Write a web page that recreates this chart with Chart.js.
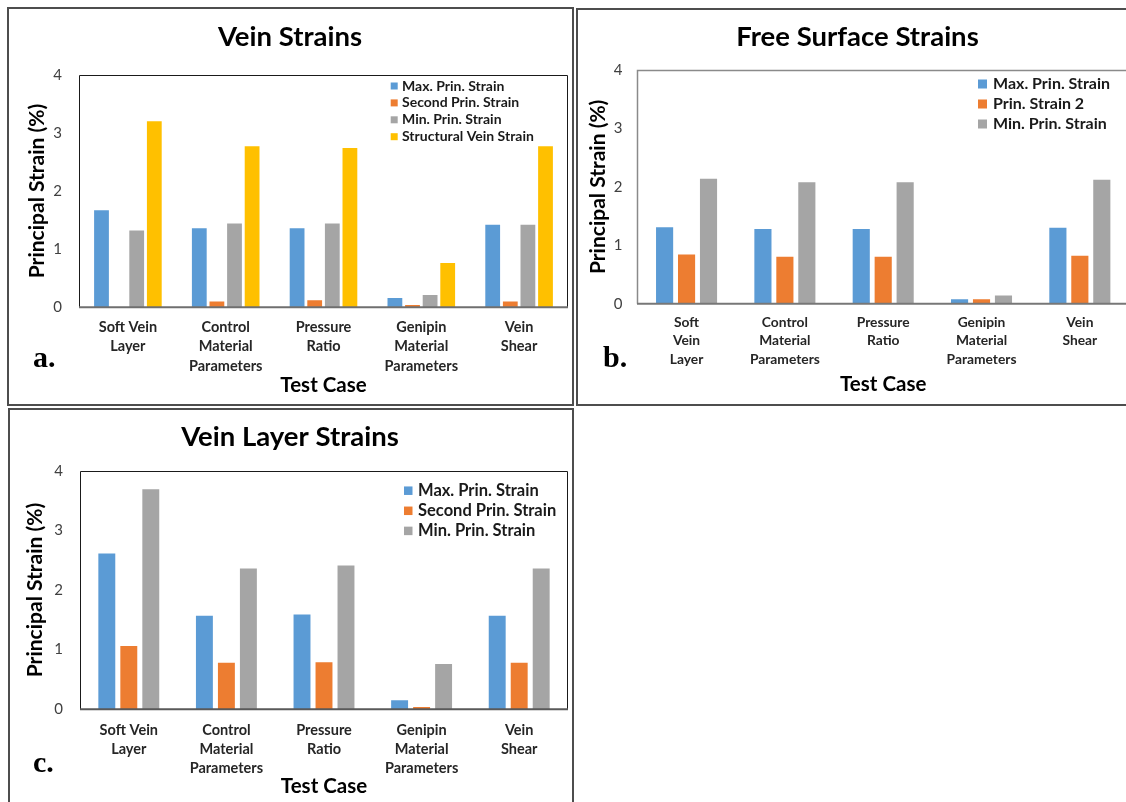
<!DOCTYPE html>
<html>
<head>
<meta charset="utf-8">
<script src="https://cdn.jsdelivr.net/npm/chart.js@4.4.1/dist/chart.umd.min.js"></script>
<style>
  html, body { margin: 0; padding: 0; background: #fff; overflow: hidden; width: 1126px; height: 802px; }
  .frame { position: absolute; border: 2px solid #4d4d4d; box-sizing: border-box; }
  canvas { position: absolute; }
</style>
</head>
<body>
<div class="frame" style="left:7px;top:7px;width:567px;height:399px"></div>
<div class="frame" style="left:576px;top:8px;width:560px;height:398px"></div>
<div class="frame" style="left:8px;top:408px;width:566px;height:400px"></div>
<canvas id="veinChart" width="565" height="397" style="left:8px;top:8px"></canvas>
<canvas id="freeChart" width="560" height="396" style="left:577px;top:9px"></canvas>
<canvas id="layerChart" width="564" height="393" style="left:9px;top:409px"></canvas>

<script>
// ---- categories ----
const caseLabels = [["Soft Vein", "Layer"], ["Control", "Material", "Parameters"], ["Pressure", "Ratio"], ["Genipin", "Material", "Parameters"], ["Vein", "Shear"]];
const caseLabelsNarrow = [["Soft", "Vein", "Layer"], ["Control", "Material", "Parameters"], ["Pressure", "Ratio"], ["Genipin", "Material", "Parameters"], ["Vein", "Shear"]];
const strainTicks = [0, 1, 2, 3, 4];

// ---- a. vein strains (%) ----
const veinMax = [1.67, 1.36, 1.36, 0.16, 1.42];
const veinSecond = [0, 0.10, 0.12, 0.04, 0.10];
const veinMin = [1.32, 1.44, 1.44, 0.21, 1.42];
const veinStructural = [3.20, 2.77, 2.74, 0.76, 2.77];

// ---- b. free surface strains (%) ----
const freeMax = [1.31, 1.28, 1.28, 0.075, 1.30];
const freeSecond = [0.84, 0.805, 0.805, 0.075, 0.82];
const freeMin = [2.14, 2.08, 2.08, 0.14, 2.12];

// ---- c. vein layer strains (%) ----
const layerMax = [2.61, 1.57, 1.59, 0.15, 1.57];
const layerSecond = [1.06, 0.78, 0.79, 0.04, 0.78];
const layerMin = [3.69, 2.36, 2.41, 0.76, 2.36];

const BLUE = '#5B9BD5', ORANGE = '#ED7D31', GRAY = '#A5A5A5', GOLD = '#FFC000';

Chart.defaults.font.family = 'Lato, "Open Sans", sans-serif';

// Border around the plot area, with a heavier category axis line along the bottom.
const plotFrame = {
  id: 'plotFrame',
  afterDatasetsDraw(chart, args, o) {
    const { ctx, chartArea: { left, top, right, bottom } } = chart;
    const l = Math.round(left) + 0.5, r = Math.round(right) - 0.5, t = Math.round(top) + 0.5;
    ctx.save();
    ctx.strokeStyle = o.color;
    ctx.lineWidth = o.width;
    ctx.beginPath();
    ctx.moveTo(l, bottom);
    ctx.lineTo(l, t);
    ctx.lineTo(r, t);
    ctx.lineTo(r, bottom);
    ctx.stroke();
    ctx.strokeStyle = o.baseColor;
    ctx.lineWidth = o.baseWidth;
    ctx.beginPath();
    ctx.moveTo(l - 0.5, bottom);
    ctx.lineTo(r + 0.5, bottom);
    ctx.stroke();
    ctx.restore();
  }
};

// Square-swatch legend stacked in the upper right of the plot.
const boxLegend = {
  id: 'boxLegend',
  afterDraw(chart, args, o) {
    const ctx = chart.ctx;
    ctx.save();
    ctx.font = o.font;
    ctx.textBaseline = 'middle';
    ctx.textAlign = 'left';
    chart.data.datasets.forEach((ds, i) => {
      const y = o.y + i * o.rowGap;
      ctx.fillStyle = ds.backgroundColor;
      ctx.fillRect(o.x, y - o.box / 2, o.box, o.box);
      ctx.fillStyle = o.color;
      ctx.fillText(ds.label, o.textX, y);
    });
    ctx.restore();
  }
};

// Panel letter (a., b., c.)
const panelTag = {
  id: 'panelTag',
  afterDraw(chart, args, o) {
    const ctx = chart.ctx;
    ctx.save();
    ctx.font = 'bold 30px "Liberation Serif", "DejaVu Serif", serif';
    ctx.fillStyle = '#000';
    ctx.textBaseline = 'alphabetic';
    ctx.fillText(o.text, o.x, o.y);
    ctx.restore();
  }
};

function buildChart(id, c) {
  return new Chart(document.getElementById(id), {
    type: 'bar',
    data: {
      labels: c.labels,
      datasets: c.series.map(s => ({
        label: s.label,
        data: s.data,
        backgroundColor: s.color,
        borderWidth: 0,
        categoryPercentage: c.catPct,
        barPercentage: c.barPct
      }))
    },
    options: {
      responsive: false,
      animation: false,
      layout: { padding: { left: c.padL, right: c.padR, top: 0, bottom: 0 } },
      plugins: {
        legend: { display: false },
        tooltip: { enabled: false },
        title: {
          display: true,
          text: c.title,
          color: '#000',
          font: { size: 27.5, weight: 'bold' },
          padding: { top: c.titleTop, bottom: c.titleBottom }
        },
        plotFrame: c.frame,
        boxLegend: c.legend,
        panelTag: c.tag
      },
      scales: {
        x: {
          grid: { display: false, drawTicks: false },
          border: { display: false },
          ticks: {
            autoSkip: false,
            maxRotation: 0,
            color: '#262626',
            padding: c.xPad,
            font: { size: c.xFont, weight: 'bold', lineHeight: c.xLine }
          },
          title: {
            display: true,
            text: 'Test Case',
            color: '#000',
            font: { size: 20.5, weight: 'bold' },
            padding: { top: 0, bottom: c.xTitleBottom }
          },
          afterFit: s => { s.height = c.xHeight; }
        },
        y: {
          min: strainTicks[0],
          max: strainTicks[strainTicks.length - 1],
          afterBuildTicks: s => { s.ticks = strainTicks.map(v => ({ value: v })); },
          grid: { display: false, drawTicks: false },
          border: { display: false },
          ticks: { color: '#404040', padding: c.yPad, font: { size: 15 } },
          title: {
            display: true,
            text: 'Principal Strain (%)',
            color: '#000',
            font: { size: 21, weight: 'bold' },
            padding: { top: c.yTitleTop, bottom: 0 }
          },
          afterFit: s => { s.width = c.yWidth; }
        }
      }
    },
    plugins: [plotFrame, boxLegend, panelTag]
  });
}

buildChart('veinChart', {
  title: 'Vein Strains',
  labels: caseLabels,
  series: [
    { label: 'Max. Prin. Strain', data: veinMax, color: BLUE },
    { label: 'Second Prin. Strain', data: veinSecond, color: ORANGE },
    { label: 'Min. Prin. Strain', data: veinMin, color: GRAY },
    { label: 'Structural Vein Strain', data: veinStructural, color: GOLD }
  ],
  catPct: 0.72, barPct: 0.84,
  padL: 4, padR: 5, yWidth: 67, xHeight: 97.7,
  titleTop: 12.5, titleBottom: 21.2, yTitleTop: 12.4, yPad: 17,
  xPad: 10, xFont: 14.5, xLine: 1.345, xTitleBottom: 7.7,
  frame: { color: '#1a1a1a', width: 1, baseColor: '#6f6f6f', baseWidth: 2 },
  legend: { x: 382.7, box: 7, textX: 394, y: 78, rowGap: 16.9, font: 'bold 14px Lato, sans-serif', color: '#1a1a1a' },
  tag: { text: 'a.', x: 25, y: 359 }
});

buildChart('freeChart', {
  title: 'Free Surface Strains',
  labels: caseLabelsNarrow,
  series: [
    { label: 'Max. Prin. Strain', data: freeMax, color: BLUE },
    { label: 'Prin. Strain 2', data: freeSecond, color: ORANGE },
    { label: 'Min. Prin. Strain', data: freeMin, color: GRAY }
  ],
  catPct: 0.67, barPct: 0.78,
  padL: 9, padR: 8, yWidth: 51.4, xHeight: 101.3,
  titleTop: 11.5, titleBottom: 16.5, yTitleTop: 0, yPad: 15,
  xPad: 9.9, xFont: 13.8, xLine: 1.319, xTitleBottom: 8.7,
  frame: { color: '#8a8a8a', width: 1.5, baseColor: '#777777', baseWidth: 2 },
  legend: { x: 401, box: 9, textX: 416, y: 75, rowGap: 20, font: 'bold 16px Lato, sans-serif', color: '#1a1a1a' },
  tag: { text: 'b.', x: 26, y: 358 }
});

buildChart('layerChart', {
  title: 'Vein Layer Strains',
  labels: caseLabels,
  series: [
    { label: 'Max. Prin. Strain', data: layerMax, color: BLUE },
    { label: 'Second Prin. Strain', data: layerSecond, color: ORANGE },
    { label: 'Min. Prin. Strain', data: layerMin, color: GRAY }
  ],
  catPct: 0.676, barPct: 0.77,
  padL: 3, padR: 5, yWidth: 68, xHeight: 92.7,
  titleTop: 11.8, titleBottom: 16.9, yTitleTop: 10.4, yPad: 17,
  xPad: 11.2, xFont: 14.5, xLine: 1.31, xTitleBottom: 3.7,
  frame: { color: '#1a1a1a', width: 1, baseColor: '#595959', baseWidth: 2 },
  legend: { x: 395, box: 8.5, textX: 409, y: 81.7, rowGap: 20.1, font: 'bold 16.5px Lato, sans-serif', color: '#1a1a1a' },
  tag: { text: 'c.', x: 24, y: 363 }
});
</script>
</body>
</html>
